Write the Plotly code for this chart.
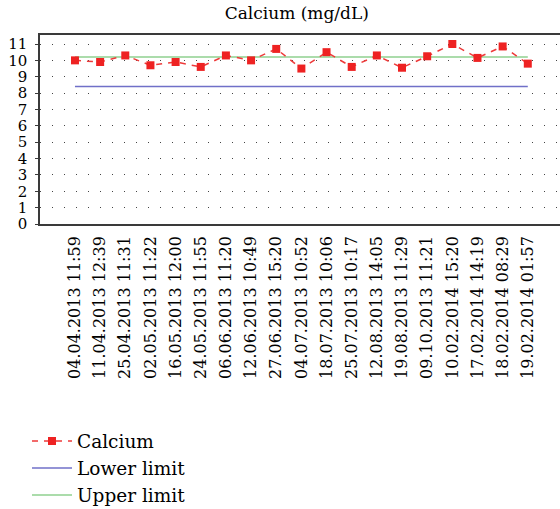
import plotly.graph_objects as go

dates = ["04.04.2013 11:59", "11.04.2013 12:39", "25.04.2013 11:31", "02.05.2013 11:22",
         "16.05.2013 12:00", "24.05.2013 11:55", "06.06.2013 11:20", "12.06.2013 10:49",
         "27.06.2013 15:20", "04.07.2013 10:52", "18.07.2013 10:06", "25.07.2013 10:17",
         "12.08.2013 14:05", "19.08.2013 11:29", "09.10.2013 11:21", "10.02.2014 15:20",
         "17.02.2014 14:19", "18.02.2014 08:29", "19.02.2014 01:57"]
calcium = [10.0, 9.9, 10.3, 9.7, 9.9, 9.6, 10.3, 10.0, 10.7, 9.5,
           10.5, 9.6, 10.3, 9.55, 10.25, 11.0, 10.15, 10.85, 9.8]
lower_limit = [8.4] * len(dates)
upper_limit = [10.2] * len(dates)
y_ticks = list(range(0, 12))

FONT = "DejaVu Serif, Liberation Serif, serif"

fig = go.Figure()
fig.add_trace(go.Scatter(x=dates, y=lower_limit, mode="lines", name="Lower limit",
                         legendrank=2, line=dict(color="#7070c8", width=1.5)))
fig.add_trace(go.Scatter(x=dates, y=upper_limit, mode="lines", name="Upper limit",
                         legendrank=3, line=dict(color="#8fd08f", width=1.5)))
fig.add_trace(go.Scatter(x=dates, y=calcium, mode="lines+markers", name="Calcium",
                         legendrank=1,
                         line=dict(color="#ee3a3a", width=1.5, dash="6px,6px"),
                         marker=dict(symbol="square", size=8, color="#ee2222")))

fig.update_layout(
    template="none",
    width=560, height=509,
    margin=dict(l=40, r=0, t=35, b=285, autoexpand=False),
    paper_bgcolor="white", plot_bgcolor="white",
    font=dict(family=FONT, size=18, color="black"),
    title=dict(text="Calcium (mg/dL)", x=0.53, xanchor="center", y=0.987, yanchor="top",
               automargin=False, font=dict(family=FONT, size=17, color="black")),
    showlegend=True,
    legend=dict(x=-0.025, xanchor="left", y=-1.05, yanchor="top",
                traceorder="normal", font=dict(family=FONT, size=18.5),
                itemwidth=40, bgcolor="rgba(0,0,0,0)"),
)
fig.update_xaxes(
    type="category", range=[-1.39, 19.28], tickangle=-90, automargin=False,
    showgrid=False, showline=True, linecolor="#3a3a3a", linewidth=1.5, mirror=True,
    ticks="", tickfont=dict(family=FONT, size=16), ticklabelstandoff=4,
)
fig.update_yaxes(
    range=[0, 11.55], tickvals=y_ticks, ticktext=[str(v) for v in y_ticks], automargin=False,
    showgrid=True, gridcolor="#444444", gridwidth=1, griddash="1px,11px",
    zeroline=False, showline=True, linecolor="#3a3a3a", linewidth=1.5, mirror=False,
    ticks="outside", ticklen=3, tickwidth=1, tickcolor="#3a3a3a",
    tickfont=dict(family=FONT, size=15), ticklabelstandoff=5,
)
fig.write_html(
    "out.html",
    config={"displayModeBar": False},
    post_script="document.body.style.margin='0';document.body.style.overflow='hidden';",
)
